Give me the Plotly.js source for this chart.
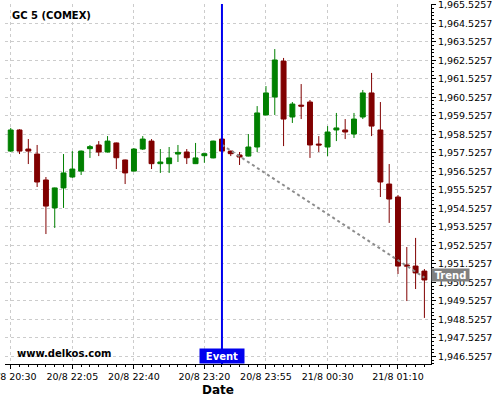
<!DOCTYPE html>
<html>
<head>
<meta charset="utf-8">
<script src="https://cdn.plot.ly/plotly-3.0.1.min.js"></script>
<style>html,body{margin:0;padding:0;background:#fff;}#chart{width:500px;height:400px;}</style>
</head>
<body>
<div id="chart"></div>
<script>
const times = ["20/8 20:30","20/8 20:35","20/8 20:40","20/8 20:45","20/8 20:50","20/8 20:55","20/8 21:00",
"20/8 22:05","20/8 22:10","20/8 22:15","20/8 22:20","20/8 22:25","20/8 22:30","20/8 22:35","20/8 22:40",
"20/8 22:45","20/8 22:50","20/8 22:55","20/8 23:00","20/8 23:05","20/8 23:10","20/8 23:15","20/8 23:20",
"20/8 23:25","20/8 23:30","20/8 23:35","20/8 23:40","20/8 23:45","20/8 23:50","20/8 23:55","21/8 00:00",
"21/8 00:05","21/8 00:10","21/8 00:15","21/8 00:20","21/8 00:25","21/8 00:30","21/8 00:35","21/8 00:40",
"21/8 00:45","21/8 00:50","21/8 00:55","21/8 01:00","21/8 01:05","21/8 01:10","21/8 01:15","21/8 01:20","21/8 01:25"];
const openV  = [1957.62,1958.76,1957.73,1957.46,1956.06,1954.55,1955.63,1956.22,1956.54,1957.75,1957.95,1957.57,1958.06,1957.14,1956.54,1957.73,1958.16,1956.94,1956.94,1957.46,1957.57,1956.94,1957.37,1957.25,1958.27,1957.62,1957.41,1957.35,1957.84,1959.57,1960.54,1962.48,1959.46,1960.10,1960.27,1958.00,1957.84,1958.76,1958.76,1958.54,1959.46,1960.76,1958.76,1955.84,1955.14,1951.47,1951.41,1951.14];
const highV  = [1958.87,1958.80,1958.27,1957.95,1956.22,1955.65,1957.46,1957.62,1957.65,1957.95,1958.16,1958.43,1958.08,1957.16,1957.78,1958.43,1958.27,1957.73,1957.84,1957.95,1957.73,1958.06,1957.51,1958.18,1958.29,1957.64,1957.57,1958.54,1960.05,1961.13,1963.13,1962.65,1960.27,1961.24,1960.38,1958.43,1958.97,1959.68,1959.35,1959.68,1960.92,1961.84,1960.27,1956.92,1955.25,1952.44,1952.93,1951.25];
const lowV   = [1957.57,1957.46,1956.92,1955.68,1953.14,1953.47,1954.55,1956.17,1956.33,1957.25,1957.35,1957.55,1956.65,1955.84,1956.52,1957.68,1956.65,1956.44,1956.44,1957.03,1956.92,1956.92,1956.99,1957.23,1957.60,1957.35,1956.87,1957.33,1957.57,1959.55,1959.57,1957.89,1959.14,1959.35,1957.25,1957.57,1957.35,1958.16,1958.27,1958.33,1959.35,1958.43,1955.14,1953.74,1950.98,1949.52,1950.17,1948.61];
const closeV = [1958.76,1957.62,1957.62,1955.95,1954.65,1955.63,1956.44,1956.65,1957.62,1957.86,1957.57,1958.16,1957.26,1956.44,1957.73,1958.27,1956.94,1957.03,1957.25,1957.55,1957.26,1957.25,1957.48,1958.16,1957.62,1957.48,1957.30,1957.84,1959.68,1960.76,1962.54,1959.35,1960.16,1960.05,1957.95,1957.95,1958.65,1958.87,1958.65,1959.35,1960.76,1958.97,1955.95,1955.03,1951.41,1951.41,1951.04,1950.66];
const tickLabels = ["20/8 20:30","20/8 22:05","20/8 22:40","20/8 23:20","20/8 23:55","21/8 00:30","21/8 01:10"];
const eventTime = "20/8 23:30";
const trendTimes = ["20/8 23:30","21/8 01:25"];
const trendValues = [1957.96, 1950.79];
const trendLabelValue = 1950.93;

const idx = t => times.indexOf(t);
const xs = times.map((t, i) => i);
const F = "DejaVu Sans";

const trend = {
  type: "scatter", mode: "lines",
  x: trendTimes.map(idx), y: trendValues,
  line: {color: "#8c8c8c", width: 2, dash: "dot"},
  hoverinfo: "skip", showlegend: false
};
const candles = {
  type: "candlestick", x: xs, open: openV, high: highV, low: lowV, close: closeV,
  increasing: {line: {color: "#008000", width: 1}, fillcolor: "#008000"},
  decreasing: {line: {color: "#800000", width: 1}, fillcolor: "#800000"},
  whiskerwidth: 0, showlegend: false, hoverinfo: "skip"
};

const layout = {
  width: 500, height: 400,
  margin: {l: 5, r: 69, t: 4, b: 36},
  paper_bgcolor: "#fff", plot_bgcolor: "#fff",
  font: {family: F, size: 9.5, color: "#000"},
  showlegend: false,
  boxgap: 0.2,
  xaxis: {
    type: "linear", range: [-0.65, 47.75],
    tickmode: "array", tickvals: tickLabels.map(idx), ticktext: tickLabels,
    ticks: "outside", ticklen: 4, tickcolor: "#000",
    ticklabeloverflow: "allow",
    showline: true, linecolor: "#000", linewidth: 1, mirror: false,
    showgrid: true, gridcolor: "#cccccc", griddash: "3px,3px", gridwidth: 1,
    zeroline: false,
    minor: {tickmode: "linear", tick0: 0, dtick: 1, ticks: "outside", ticklen: 2, tickcolor: "#000", showgrid: false},
    rangeslider: {visible: false},
    tickfont: {family: F, size: 9.5, color: "#000"},
    title: {text: "Date", font: {family: F, size: 12, color: "#000", weight: "bold"}, standoff: 4}
  },
  yaxis: {
    side: "right", range: [1946.121, 1965.5635],
    tickmode: "linear", tick0: 1946.5257, dtick: 1, tickformat: ",.4f",
    ticks: "outside", ticklen: 4, tickcolor: "#000",
    ticklabeloverflow: "allow",
    showline: true, linecolor: "#000", linewidth: 1,
    showgrid: true, gridcolor: "#cccccc", griddash: "3px,3px", gridwidth: 1,
    zeroline: false,
    minor: {tickmode: "linear", tick0: 1946.5257, dtick: 0.2, ticks: "outside", ticklen: 2, tickcolor: "#000", showgrid: false},
    tickfont: {family: F, size: 9.5, color: "#000"}
  },
  shapes: [{
    type: "line", xref: "x", yref: "paper", x0: idx(eventTime), x1: idx(eventTime), y0: 0, y1: 1,
    line: {color: "#0000ee", width: 2}, layer: "above"
  }],
  annotations: [
    {xref: "paper", yref: "paper", x: 0.0117, y: 0.9686, xanchor: "left", yanchor: "middle",
     text: "<b>GC 5 (COMEX)</b>", showarrow: false, font: {family: F, size: 10, color: "#000"}},
    {xref: "paper", yref: "paper", x: 0.0235, y: 0.028, xanchor: "left", yanchor: "middle",
     text: "<b>www.delkos.com</b>", showarrow: false, font: {family: F, size: 10, color: "#000"}},
    {xref: "x", yref: "paper", x: idx(eventTime), y: 0, xanchor: "center", yanchor: "bottom",
     text: "<b>Event</b>", showarrow: false, bgcolor: "#0000ee", width: 42, height: 12, borderpad: 1,
     font: {family: F, size: 10, color: "#fff"}},
    {xref: "paper", yref: "y", x: 1, y: trendLabelValue, xanchor: "left", yanchor: "middle",
     text: "<b>Trend</b>", showarrow: false, bgcolor: "#808080", width: 35, height: 10, borderpad: 1,
     font: {family: F, size: 10, color: "#fff"}}
  ]
};

Plotly.newPlot("chart", [trend, candles], layout, {staticPlot: true, displayModeBar: false});
</script>
</body>
</html>
